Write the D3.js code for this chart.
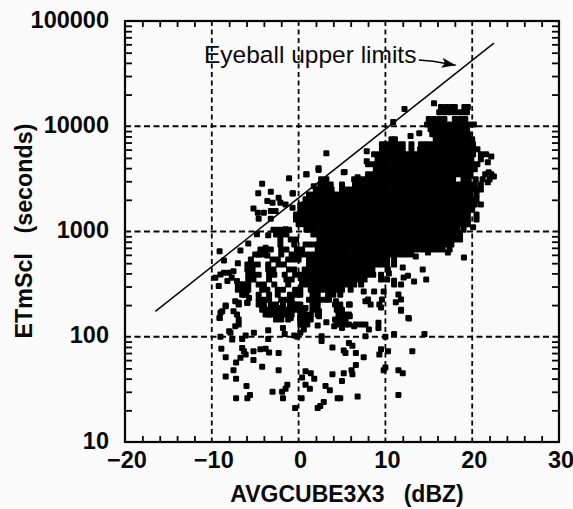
<!DOCTYPE html>
<html><head><meta charset="utf-8">
<script src="https://cdn.jsdelivr.net/npm/d3@7"></script>
<style>html,body{margin:0;padding:0;background:#fafafa}svg{display:block}text{font-family:"Liberation Sans",Arial,sans-serif;fill:#0a0a0a}</style>
</head><body><div id="chart"></div>
<script>
const xMajor=[-20,-10,0,10,20,30];
const yMajor=[10,100,1000,10000,100000];
const xGrid=[-10,0,10,20];
const yGrid=[100,1000,10000];
const xMinor=[-18,-16,-14,-12,-8,-6,-4,-2,2,4,6,8,12,14,16,18,22,24,26,28];
const yMinor=[20,30,40,50,60,70,80,90,200,300,400,500,600,700,800,900,2000,3000,4000,5000,6000,7000,8000,9000,20000,30000,40000,50000,60000,70000,80000,90000];
const limitDbz=[-16.5,22.5];
const limitSeconds=[174,61700];
const arrowDbz=[13.86,15.5,18.1];
const arrowSeconds=[42500,41500,38000];

const scatterDbz=[
-8.9,-8.4,-6.5,-6.3,-6.1,-6.7,-7.2,-5.2,-4.4,-3.8,
-3.4,-2.3,-5.2,-4.2,-2.3,-7.5,-8.4,-7.2,-6,-7.2,
-5.9,-5.6,-3,-1.3,-1.5,-1.9,-1.8,.4,.8,1.4,
1.8,.8,1.3,.35,-.4,2.2,2.5,2.9,3.1,3.6,
4.5,4.8,6.8,3.9,5,5.2,6.2,6.1,6.6,3.9,
5.2,5.4,6.6,7.5,5.8,6.2,2.65,2.65,9.3,9.5,
10.3,10,9.8,11.5,12,11.5,13.1,10,11,14.5,
-7.85,-7.65,-8,-6.1,-6.5,-5.15,-9,-3.5,-3.5,-1.8,
-1.6,-.5,.2,.6,-.15,-8.4,-9,-9.1,-6.9,-5.9,
-7.1,-6.9,-6.9,-7.3,-7.5,-4.4,-4,-3.4,-2.8,-2.1,
-1.5,-.9,-.5,.8,2.15,2.35,2.35,.2,.8,.2,
2.2,3.2,4.5,4.65,4.1,5,5.4,5.9,5.9,6.4,
7.2,7.7,8.1,7.7,9.2,9.2,11.8,12.65,7.7,9.3,11.2,
-1.1,.9,2.3,5.3,-4.2,-4.65,-3.2,-.65,-2.3,-3.6,
-3,-1.5,-5.2,-4.7,-4,-3.2,-2.65,-2.1,-.7,.3,
-4.6,-3.2,-4.8,-3.5,-9.1,-6.7,-5.8,-2.5,-1.5,-8.6,
-5.5,-7,-3.8,-4.2,-4.6,-3.6,-9,-8.6,-9.6,-9.2,
-8,-7.5,-7.7,-7.1,-8.2,-6.5,-5.9,-6.9,-7.3,-6.3,
-5.7,-5.9,-6.9,-8.4,-8.8,-9.1,
15.6,12.2,10.9,3.2,7.85,2.3,.9,5.2,-.7,1.75,
2.8,6.8,7.2,.2,12.9,13.9,7.85,22.2,21.8,21.9,
22.5,21.8,20.1,19.05,14.7,14.3,13.3,13.5,14.9,17.2,
12,12.1,11,11.8,7.5,8.7,9.8,8,9.6,11.8,
11.5,4.3,5.8,8.3,9.5,11.8,12.7,10.4,11,12.6
];
const scatterSeconds=[
77,64,78,73,68,63,57,73,76,77,
71,70,60,52,48,48,42,40,34,26,
26,28,30,35,32,30,26,41,47,45,
40,35,32,26,21,21,22,24,34,31,
26,26,27,44,38,45,44,48,54,79,
74,70,70,64,87,82,101,91,68,76,
73,51,48,48,45,28,73,100,106,106,
109,94,113,103,95,109,100,115,95,121,
106,103,109,117,100,198,169,151,210,210,
163,146,131,126,175,210,188,163,181,188,
169,151,202,188,218,175,157,151,141,131,
128,137,181,146,126,121,131,202,157,126,
131,131,117,101,136,121,181,151,218,202,213,
3200,3490,3850,3680,2850,2310,2390,2310,2090,1950,
1880,1810,1650,1510,1510,1570,1570,1880,1680,1790,
1320,1320,940,920,650,660,770,1010,1050,531,
543,498,700,630,605,590,391,405,363,303,
405,420,363,339,339,314,303,292,218,252,
234,210,202,195,175,151,
16500,14600,11000,5530,5780,3980,3490,3650,2300,2690,
2930,3270,3000,1770,8070,8570,4640,5170,4540,3650,
3340,2930,1100,567,350,435,335,580,630,630,
455,366,314,314,269,269,269,226,226,226,
252,217,202,202,190,177,149,400,340,380
];

const rowSeconds=[15200,13600,11700,10400,9360,8390,7520,6740,6040,5410,4850,4350,3900,3490,3130,2800,2510,2250,2020,1810,1620,1450,1300,1170,1040,936,839,752,674,604,541,485,435,389,349,313,280,251,225,202,181,163,146,131];
const rowDbz=[
[16.4,17,17.6,18,19.1,19.5],
[16.2,16.8,17.4,18,18.6,19,19.4],
[15,15.6,16.2,16.8,18,18.6,19.2],
[14.8,15.4,16,16.6,17.2,17.8,18.4,19,19.6,20.2],
[15.2,15.8,16.4,17,17.6,18.2,18.8,19.4],
[15.4,16,16.6,17.2,17.8,18.4,19,19.6],
[10.7,11.1,15.8,16.4,17,17.6,18.2,18.8,19.4,20],
[9.6,10.2,10.8,11.4,12,13,14.1,14.7,15.3,15.9,16.5,17.1,17.7,18.3,18.9,19.5,20.1],
[9.6,10.2,10.8,11.4,12,13,14,14.6,15.2,15.8,16.4,17,17.6,18.2,18.8,19.4,20,20.6],
[8.7,9.3,9.9,10.5,11.1,11.7,12.3,12.9,13.5,14.1,14.7,15.3,15.9,16.5,17.1,17.7,18.3,18.9,19.5,20.1,21,21.6],
[9.1,9.7,10.3,10.9,11.5,12.1,12.7,13.3,13.9,14.5,15.1,15.7,16.3,16.9,17.5,18.1,18.7,19.3,19.9,21],
[8,8.6,9.2,9.8,10.4,11,11.6,12.2,12.8,13.4,14,14.6,15.2,15.8,16.4,17,17.6,18.2,18.8,19.4,20,20.6],
[8.9,9.5,10.1,10.7,11.3,11.9,12.5,13.1,13.7,14.3,14.9,15.5,16.1,16.7,17.3,17.9,18.5,19.1,19.7,20.3],
[8,8.6,9.2,9.8,10.4,11,11.6,12.2,12.8,13.4,14,14.6,15.2,15.8,16.4,17,17.6,18.2,18.8,19.4,19.8,21.5,22.2],
[2.6,3.2,6.4,7,7.6,8.2,8.8,9.4,10,10.6,11.2,11.8,12.4,13,13.6,14.2,14.8,15.4,16,16.6,17.2,17.8,19,19.6,20.4,21.2,22],
[2.5,3.1,3.7,5,6.5,7.1,7.7,8.3,8.9,9.5,10.1,10.7,11.3,11.9,12.5,13.1,13.7,14.3,14.9,15.5,16.1,16.7,17.3,17.9,18.5,19.1,19.7,20.3,21],
[2,2.6,3.2,3.8,5,5.6,6.2,6.8,7.4,8,8.6,9.2,9.8,10.4,11,11.6,12.2,12.8,13.4,14,14.6,15.2,15.8,16.4,17,17.6,18.2,18.8,19.4,20,20.6,21],
[1.2,1.8,2.4,3,3.6,4.2,4.8,5.4,6,6.6,7.2,7.8,8.4,9,9.6,10.2,10.8,11.4,12,12.6,13.2,13.8,14.4,15,15.6,16.2,16.8,17.4,18,18.6,19.2,19.8,20.5],
[.8,1.4,2,2.6,3.2,3.8,4.4,5,5.6,6.2,6.8,7.4,8,8.6,9.2,9.8,10.4,11,11.6,12.2,12.8,13.4,14,14.6,15.2,15.8,16.4,17,17.6,18.2,18.8,19.4,20,20.5],
[.5,1.1,1.7,2.3,2.9,3.5,4.1,4.7,5.3,5.9,6.5,7.1,7.7,8.3,8.9,9.5,10.1,10.7,11.3,11.9,12.5,13.1,13.7,14.3,14.9,15.5,16.1,16.7,17.3,17.9,18.5,19.1,19.7,20.3,21],
[.2,.8,1.4,2,2.6,3.2,3.8,4.4,5,5.6,6.2,6.8,7.4,8,8.6,9.2,9.8,10.4,11,11.6,12.2,12.8,13.4,14,14.6,15.2,15.8,16.4,17,17.6,18.2,18.8,19.4,20],
[-.3,.3,.9,1.5,2.1,2.7,3.3,3.9,4.5,5.1,5.7,6.3,6.9,7.5,8.1,8.7,9.3,9.9,10.5,11.1,11.7,12.3,12.9,13.5,14.1,14.7,15.3,15.9,16.5,17.1,17.7,18.3,18.9,19.5,20.5],
[-.3,.3,.9,1.5,2.1,2.7,3.3,3.9,4.5,5.1,5.7,6.3,6.9,7.5,8.1,8.7,9.3,9.9,10.5,11.1,11.7,12.3,12.9,13.5,14.1,14.7,15.3,15.9,16.5,17.1,17.7,18.3,18.9,19.5,20.5],
[0,.6,1.2,1.8,2.4,3,3.6,4.2,4.8,5.4,6,6.6,7.2,7.8,8.4,9,9.6,10.2,10.8,11.4,12,12.6,13.2,13.8,14.4,15,15.6,16.2,16.8,17.4,18,18.6,19.2,19.5],
[-2.9,-2.3,-1.7,-1.1,.9,1.5,2.1,2.7,3.3,3.9,4.5,5.1,5.7,6.3,6.9,7.5,8.1,8.7,9.3,9.9,10.5,11.1,11.7,12.3,12.9,13.5,14.1,14.7,15.3,15.9,16.5,17.1,17.7,18.3,19],
[-2.6,-2,-1.4,1.7,2.3,2.9,3.5,4.1,4.7,5.3,5.9,6.5,7.1,7.7,8.3,8.9,9.5,10.1,10.7,11.3,11.9,12.5,13.1,13.7,14.3,14.9,15.5,16.1,16.7,17.3,17.9,18.6],
[-2.1,-.9,-.3,2.4,3,3.6,4.2,4.8,5.4,6,6.6,7.2,7.8,8.4,9,9.6,10.2,10.8,11.4,12,12.6,13.2,13.8,14.4,15,15.6,16.2,16.8,17.4,18,18.6],
[-2.1,-.5,.8,1.4,2,2.6,3.2,3.8,4.4,5,5.6,6.2,6.8,7.4,8,8.6,9.2,9.8,10.4,11,11.6,12.2,12.8,13.4,14,14.6,15.2,15.8,16.4,17,17.6],
[-4.4,-3.8,-3.2,-2,-1.4,-.2,.4,2.2,2.8,3.4,4,4.6,5.2,5.8,6.4,7,7.6,8.2,8.8,9.4,10,10.6,11.2,11.8,12.4,13,13.6,14.2,14.8,15.4,16,16.6,17.4],
[-5,-4.4,-3.8,-2,-.8,-.2,.4,1,1.6,2.2,2.8,3.4,4,4.6,5.2,5.8,6.4,7,7.6,8.2,8.8,9.4,10,10.6,11.2,11.8,12.4,13],
[-3,-2.4,-1.2,-.6,0,1.2,1.8,2.4,3,3.6,4.2,4.8,5.4,6,6.6,7.2,7.8,8.4,9,9.6,10.2,11],
[-5.9,-5.3,-4.7,-3.5,-2.3,-1.7,1.2,1.8,2.4,3,3.6,4.2,4.8,5.4,6,6.6,7.2,7.8,8.4,9,9.6,10.2,11],
[-5.9,-5.3,-3.5,-2.9,-1.1,-.5,.7,1.3,1.9,2.5,3.1,3.7,4.3,4.9,5.5,6.1,6.7,7.3,7.9,8.5,10.3],
[-5.8,-5.2,-4.6,-3.4,-2.8,-1.6,-.4,.2,.8,1.4,2,2.6,3.2,3.8,4.4,5,5.6,6.2,6.8,7.4,8,8.6,9.5],
[-5.8,-5.2,-3.4,-1.4,-.8,.4,1,1.6,2.2,2.8,3.4,4,4.6,5.2,5.8,6.4,7,7.6,9.5,10.2],
[-7,-6.4,-5.8,-4.6,-4,-2.8,-1.2,.4,1,1.6,2.2,2.8,3.4,4,4.6,5.2,5.8,6.4,7.2],
[-7,-6.4,-5.8,-4.2,-3.6,-2.4,-1.8,-.4,.2,1.4,2,2.6,3.2,3.8,4.4,5,6],
[-6.5,-6,-4.6,-3.4,-2.4,-1,-.4,.2,1.6,2.2,3.4,4,4.8],
[-4.6,-4,-3.4,-2,-1.4,-.8,1.2,1.8,2.4,3,3.5],
[-4.6,-4,-3.2,-2.6,-1.8,-1,-.4,.2,1.6,2.2,4.2,4.8],
[-4.2,-3.6,-3,-2.4,-1.8,-1.2,-.6,0,.6,1.6,2.2,4.4,5],
[-3.8,-3.2,-2.6,-2,-1.4,-.8,.2,.8,1.4,2.2,4.6,5.2,5.8],
[-2.6,-2,-1.2,.2,.8,1.4,4.2,4.8,5.4],
[.4,1,4.4,5,5.8,6.6]
];

const W=573,H=509,L=125,R=559,T=21,B=442;
const x=d3.scaleLinear().domain([-20,30]).range([L,R]);
const y=d3.scaleLog().domain([10,100000]).range([B,T]);
const svg=d3.select("#chart").append("svg").attr("width",W).attr("height",H).style("background","#fafafa");
const ink="#050505";

svg.append("g").selectAll("line").data(xGrid).join("line")
 .attr("x1",d=>x(d)).attr("x2",d=>x(d)).attr("y1",T).attr("y2",B)
 .attr("stroke",ink).attr("stroke-width",1.8).attr("stroke-dasharray","5 3.5");
svg.append("g").selectAll("line").data(yGrid).join("line")
 .attr("x1",L).attr("x2",R).attr("y1",d=>y(d)).attr("y2",d=>y(d))
 .attr("stroke",ink).attr("stroke-width",1.8).attr("stroke-dasharray","6 3.5");

svg.append("path").datum(d3.zip(limitDbz,limitSeconds))
 .attr("d",d3.line().x(d=>x(d[0])).y(d=>y(d[1])))
 .attr("fill","none").attr("stroke",ink).attr("stroke-width",1.5);

const pts=[];
scatterDbz.forEach((d,i)=>pts.push([d,scatterSeconds[i]]));
rowDbz.forEach((r,i)=>r.forEach(d=>pts.push([d,rowSeconds[i]])));
svg.append("g").attr("fill","#000").selectAll("rect").data(pts).join("rect")
 .attr("x",d=>x(d[0])-3).attr("y",d=>y(d[1])-3).attr("width",6).attr("height",6).attr("rx",1.2);

const tick=(sel)=>sel.selectAll("line").attr("stroke",ink).attr("stroke-width",1.8);
const clean=(sel)=>sel.call(g=>g.select(".domain").remove());
svg.append("g").attr("transform",`translate(0,${B})`).call(d3.axisTop(x).tickValues(xMinor).tickSize(6).tickFormat("")).call(clean).call(tick);
svg.append("g").attr("transform",`translate(0,${T})`).call(d3.axisBottom(x).tickValues(xMinor).tickSize(6).tickFormat("")).call(clean).call(tick);
svg.append("g").attr("transform",`translate(${L},0)`).call(d3.axisRight(y).tickValues(yMinor).tickSize(7).tickFormat("")).call(clean).call(tick);
svg.append("g").attr("transform",`translate(${R},0)`).call(d3.axisLeft(y).tickValues(yMinor).tickSize(7).tickFormat("")).call(clean).call(tick);
svg.append("rect").attr("x",L).attr("y",T).attr("width",R-L).attr("height",B-T).attr("fill","none").attr("stroke",ink).attr("stroke-width",2.2);

const xLab=svg.append("g").attr("transform",`translate(1.5,${B})`).call(d3.axisBottom(x).tickValues(xMajor).tickSize(0).tickPadding(9).tickFormat(d3.format("d")));
xLab.select(".domain").remove();
const yLab=svg.append("g").attr("transform",`translate(109,-1.5)`).call(d3.axisLeft(y).tickValues(yMajor).tickSize(0).tickPadding(0).tickFormat(d3.format("d")));
yLab.select(".domain").remove();
[xLab,yLab].forEach(g=>g.attr("font-family",null).attr("font-size",null).selectAll("text").attr("font-size",23.5).attr("font-weight","bold").attr("fill","#0a0a0a"));

svg.append("text").attr("x",347).attr("y",502).attr("text-anchor","middle").attr("font-size",23).attr("font-weight","bold").style("white-space","pre").text("AVGCUBE3X3   (dBZ)");
svg.append("text").attr("transform","translate(32,231) rotate(-90)").attr("text-anchor","middle").attr("font-size",23.3).attr("font-weight","bold").style("white-space","pre").text("ETmScl   (seconds)");

svg.append("text").attr("x",204).attr("y",63).attr("font-size",24.5).style("white-space","pre").text("Eyeball upper limits");
svg.append("defs").append("marker").attr("id","head").attr("viewBox","0 0 14 10").attr("refX",14).attr("refY",5).attr("markerWidth",14).attr("markerHeight",10).attr("markerUnits","userSpaceOnUse").attr("orient","auto")
 .append("path").attr("d","M0,0L14,5L0,10L3,5Z").attr("fill",ink);
svg.append("path").datum(d3.zip(arrowDbz,arrowSeconds))
 .attr("d",d3.line().x(d=>x(d[0])).y(d=>y(d[1])))
 .attr("fill","none").attr("stroke",ink).attr("stroke-width",1.5).attr("marker-end","url(#head)");
</script></body></html>
